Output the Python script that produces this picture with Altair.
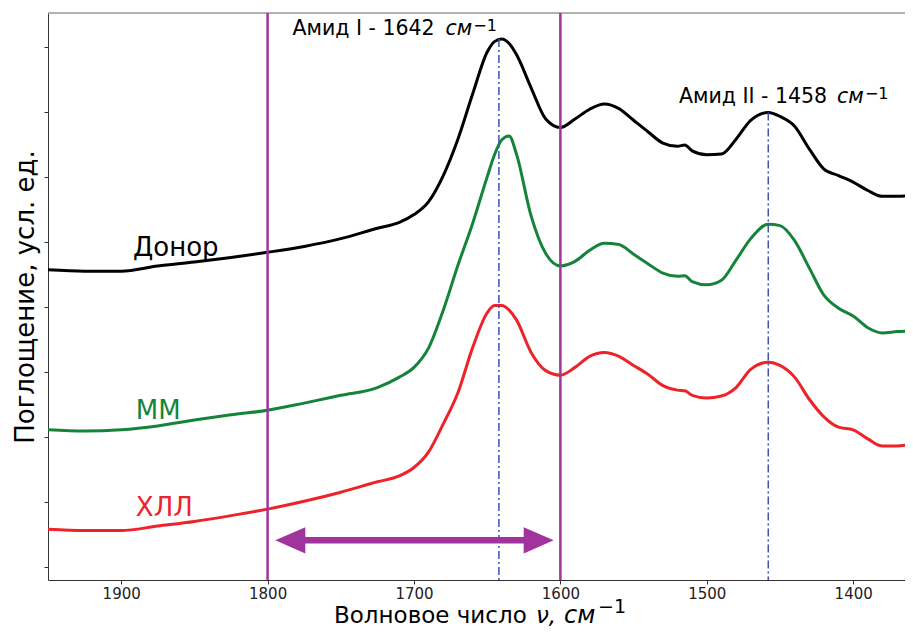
import altair as alt
import pandas as pd

# Wavenumber grid (cm^-1)
wavenumber = [1950, 1925, 1900, 1875, 1850, 1825, 1800, 1775, 1750, 1725, 1710, 1700,
              1690, 1680, 1670, 1660, 1650, 1645, 1640, 1635, 1630, 1620, 1610, 1600,
              1590, 1580, 1570, 1560, 1550, 1540, 1530, 1520, 1515, 1510, 1500, 1490,
              1480, 1470, 1458, 1450, 1440, 1430, 1420, 1410, 1400, 1390, 1380, 1370, 1360]

donor = [4.57, 4.55, 4.55, 4.63, 4.69, 4.76, 4.84, 4.93, 5.05, 5.21, 5.30, 5.42,
         5.62, 6.02, 6.58, 7.27, 7.92, 8.08, 8.12, 8.05, 7.88, 7.37, 6.89, 6.76,
         6.89, 7.04, 7.12, 7.05, 6.87, 6.69, 6.52, 6.47, 6.49, 6.40, 6.34, 6.35,
         6.58, 6.87, 6.99, 6.93, 6.78, 6.43, 6.12, 6.02, 5.92, 5.79, 5.70, 5.70, 5.71]

mm = [2.11, 2.09, 2.11, 2.17, 2.26, 2.34, 2.41, 2.52, 2.64, 2.76, 2.92, 3.07,
      3.37, 3.95, 4.64, 5.28, 6.00, 6.34, 6.57, 6.63, 6.35, 5.40, 4.82, 4.63,
      4.70, 4.87, 4.98, 4.96, 4.81, 4.66, 4.52, 4.47, 4.48, 4.39, 4.34, 4.41,
      4.72, 5.05, 5.27, 5.25, 5.02, 4.60, 4.18, 3.98, 3.86, 3.68, 3.60, 3.62, 3.63]

hll = [0.58, 0.56, 0.56, 0.63, 0.70, 0.79, 0.89, 1.01, 1.15, 1.31, 1.40, 1.53,
       1.77, 2.20, 2.68, 3.37, 3.91, 4.02, 4.02, 3.95, 3.80, 3.30, 3.02, 2.95,
       3.07, 3.24, 3.30, 3.24, 3.10, 2.96, 2.79, 2.72, 2.71, 2.64, 2.60, 2.63,
       2.76, 3.04, 3.15, 3.10, 2.92, 2.58, 2.31, 2.15, 2.11, 1.97, 1.86, 1.86, 1.89]

series_names = ["Донор", "ММ", "ХЛЛ"]
series_colors = ["#000000", "#15843a", "#ee2229"]

# Curve labels
label_wn = [1892, 1890, 1890]
label_v = [4.79, 2.27, 0.78]

# Region bounds (purple) and amide peaks (blue dash-dot)
region_wn = [1800, 1600]
peak_wn = [1642, 1458]
peak_top = [8.12, 6.99]

# Peak annotations: main text, italic unit, superscript
peak_main = ["Амид I - 1642", "Амид II - 1458"]
peak_main_wn = [1783, 1519]
peak_main_v = [8.18, 7.14]
peak_unit = ["см", "см"]
peak_unit_wn = [1678.5, 1411]
peak_sup = ["−1", "−1"]
peak_sup_wn = [1659.5, 1392]

# Double arrow between the region bounds
arrow_wn = [1784.5, 1614.8]
arrow_v = 0.41

Y_MIN, Y_MAX = -0.2, 8.52
X_LEFT, X_RIGHT = 1950, 1364.6
W, H = 857, 567

rows = []
for name, vals in zip(series_names, [donor, mm, hll]):
    for w, v in zip(wavenumber, vals):
        rows.append({"wn": w, "v": v, "series": name})
df_lines = pd.DataFrame(rows)

df_labels = pd.DataFrame({"wn": label_wn, "v": label_v, "series": series_names})
df_region = pd.DataFrame({"wn": region_wn})
df_peaks = pd.DataFrame({"wn": peak_wn, "v": peak_top, "v2": [Y_MIN, Y_MIN]})
df_pmain = pd.DataFrame({"wn": peak_main_wn, "v": peak_main_v, "t": peak_main})
df_punit = pd.DataFrame({"wn": peak_unit_wn, "v": peak_main_v, "t": peak_unit})
df_psup = pd.DataFrame({"wn": peak_sup_wn, "v": peak_main_v, "t": peak_sup})
df_shaft = pd.DataFrame({"wn": [arrow_wn[0]], "wn2": [arrow_wn[1]], "v": [arrow_v]})
df_heads = pd.DataFrame({"wn": arrow_wn, "v": [arrow_v, arrow_v], "dir": ["left", "right"]})
df_frame = pd.DataFrame({"wn": [X_LEFT], "wn2": [X_RIGHT], "v": [Y_MAX]})

xs = alt.Scale(domain=[X_RIGHT, X_LEFT], reverse=True, nice=False, zero=False)
ys = alt.Scale(domain=[Y_MIN, Y_MAX], nice=False, zero=False)
color_scale = alt.Scale(domain=series_names, range=series_colors)

x_axis = alt.Axis(values=[1900, 1800, 1700, 1600, 1500, 1400], format="d", grid=False,
                  labelFontSize=15, tickSize=4, labelPadding=2, labelColor="#222",
                  domainColor="#333", tickColor="#333", title=None)
y_axis = alt.Axis(values=list(range(9)), labels=False, grid=False, tickSize=4,
                  domainColor="#333", tickColor="#333", titleFontSize=26,
                  titleFontWeight="normal", titleColor="#000", titlePadding=5)

Y_TITLE = "Поглощение, усл. ед."


def X(field="wn"):
    return alt.X(f"{field}:Q", scale=xs, axis=x_axis, title=None)


def Y(field="v"):
    return alt.Y(f"{field}:Q", scale=ys, axis=y_axis, title=Y_TITLE)


# top frame line (the plot has no right-hand border inside the picture)
frame = alt.Chart(df_frame).mark_rule(color="#999", strokeWidth=1.5).encode(
    x=X(), x2="wn2:Q", y=Y()
)

lines = alt.Chart(df_lines).mark_line(strokeWidth=3, interpolate="monotone", clip=True).encode(
    x=X(), y=Y(),
    color=alt.Color("series:N", scale=color_scale, legend=None),
    detail="series:N",
)

labels = alt.Chart(df_labels).mark_text(fontSize=26, align="left", baseline="alphabetic").encode(
    x=X(), y=Y(), text="series:N",
    color=alt.Color("series:N", scale=color_scale, legend=None),
)

region = alt.Chart(df_region).mark_rule(color="#a0349c", strokeWidth=2.5).encode(x=X())

peaks = alt.Chart(df_peaks).mark_rule(color="#3f52b6", strokeWidth=1.5,
                                      strokeDash=[8, 3, 2, 3]).encode(
    x=X(), y=Y(), y2="v2:Q"
)

pmain = alt.Chart(df_pmain).mark_text(fontSize=20.5, align="left", baseline="alphabetic",
                                      color="#000").encode(x=X(), y=Y(), text="t:N")
punit = alt.Chart(df_punit).mark_text(fontSize=20.5, align="left", baseline="alphabetic",
                                      fontStyle="italic", color="#000").encode(
    x=X(), y=Y(), text="t:N")
psup = alt.Chart(df_psup).mark_text(fontSize=16, align="left", baseline="alphabetic",
                                    dy=-4, color="#000").encode(x=X(), y=Y(), text="t:N")

shaft = alt.Chart(df_shaft).mark_rule(color="#a0349c", strokeWidth=6.5).encode(
    x=X(), x2="wn2:Q", y=Y()
)

head_left = alt.Chart(df_heads).transform_filter(alt.datum.dir == "left").mark_point(
    shape="M1,-0.87L-1,0L1,0.87Z", size=900, filled=True, opacity=1, color="#a0349c"
).encode(x=X(), y=Y())

head_right = alt.Chart(df_heads).transform_filter(alt.datum.dir == "right").mark_point(
    shape="M-1,-0.87L1,0L-1,0.87Z", size=900, filled=True, opacity=1, color="#a0349c"
).encode(x=X(), y=Y())

# X-axis title built from parts: plain text, italic symbol/unit, superscript
XT_BASE = H + 43
xt_main = alt.Chart(pd.DataFrame({"t": ["Волновое число"]})).mark_text(
    fontSize=23, align="left", baseline="alphabetic", color="#000"
).encode(x=alt.value(286), y=alt.value(XT_BASE), text="t:N")
xt_nu = alt.Chart(pd.DataFrame({"t": ["ν,"]})).mark_text(
    fontSize=23, align="left", baseline="alphabetic", fontStyle="italic", color="#000"
).encode(x=alt.value(488), y=alt.value(XT_BASE), text="t:N")
xt_cm = alt.Chart(pd.DataFrame({"t": ["см"]})).mark_text(
    fontSize=24, align="left", baseline="alphabetic", fontStyle="italic", color="#000"
).encode(x=alt.value(516), y=alt.value(XT_BASE), text="t:N")
xt_sup = alt.Chart(pd.DataFrame({"t": ["−1"]})).mark_text(
    fontSize=19, align="left", baseline="alphabetic", color="#000"
).encode(x=alt.value(550), y=alt.value(XT_BASE - 10), text="t:N")

chart = alt.layer(
    frame, lines, labels, peaks, region, shaft, head_left, head_right,
    pmain, punit, psup, xt_main, xt_nu, xt_cm, xt_sup
).properties(
    width=W, height=H,
    autosize=alt.AutoSizeParams(type="none"),
    padding={"left": 40, "top": 5, "right": 0, "bottom": 49},
).configure(font="DejaVu Sans").configure_view(stroke=None)

chart.save("out.html", embed_options={"renderer": "svg", "actions": False})
